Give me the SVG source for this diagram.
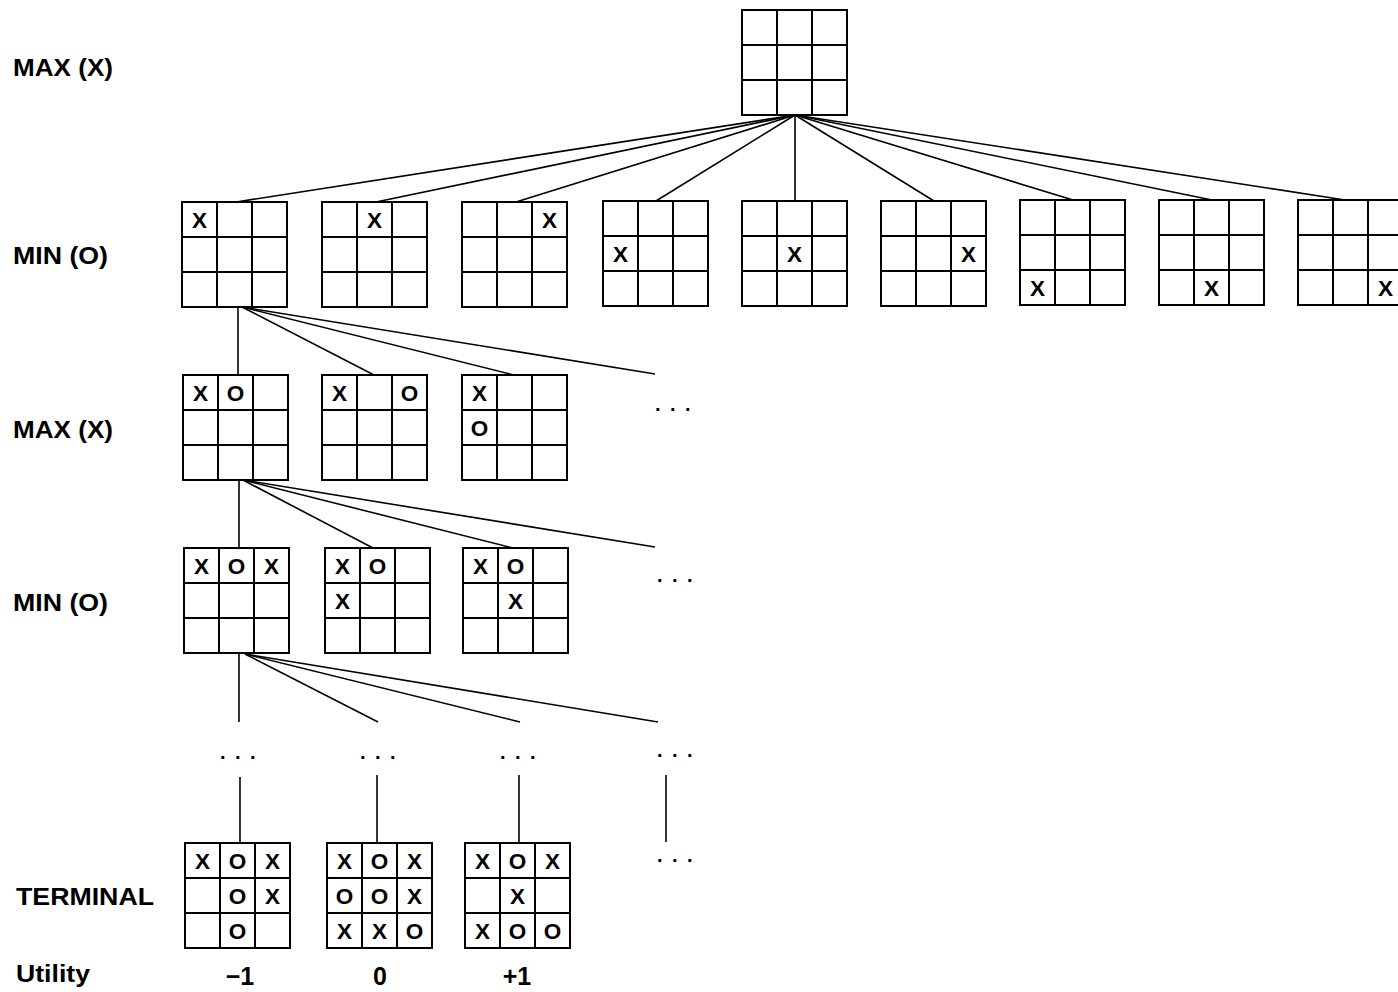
<svg xmlns="http://www.w3.org/2000/svg" xmlns:xlink="http://www.w3.org/1999/xlink" width="1398" height="992" viewBox="0 0 1398 992">
<style>
.lbl{font-family:"Liberation Sans",Arial,sans-serif;font-weight:bold;font-size:23px;fill:#000}
.m{font-family:"Liberation Sans",Arial,sans-serif;font-weight:bold;font-size:22.5px;fill:#000;text-anchor:middle}
.u{font-family:"Liberation Sans",Arial,sans-serif;font-weight:bold;font-size:25px;fill:#000;text-anchor:middle}
.dots{font-family:"Liberation Sans",Arial,sans-serif;font-weight:bold;font-size:20px;fill:#000;letter-spacing:9.4px}
.conn line{stroke:#000;stroke-width:1.6;fill:none}
</style>
<defs>
<g id="grid">
<rect x="0" y="0" width="105" height="105" fill="#fff" stroke="#000" stroke-width="2"/>
<path d="M35 0V105M70 0V105M0 35H105M0 70H105" stroke="#000" stroke-width="2" fill="none"/>
</g>
</defs>
<rect width="1398" height="992" fill="#fff"/>

<g id="labels">
<text class="lbl" x="13" y="76" textLength="100" lengthAdjust="spacingAndGlyphs">MAX (X)</text>
<text class="lbl" x="13" y="264" textLength="95" lengthAdjust="spacingAndGlyphs">MIN (O)</text>
<text class="lbl" x="13" y="438" textLength="100" lengthAdjust="spacingAndGlyphs">MAX (X)</text>
<text class="lbl" x="13" y="611" textLength="95" lengthAdjust="spacingAndGlyphs">MIN (O)</text>
<text class="lbl" x="16" y="905" textLength="138" lengthAdjust="spacingAndGlyphs">TERMINAL</text>
<text class="lbl" x="16" y="982" textLength="74" lengthAdjust="spacingAndGlyphs">Utility</text>
</g>

<g class="conn" id="connectors">
<line x1="795" y1="115" x2="236" y2="202"/>
<line x1="795" y1="115" x2="376" y2="202"/>
<line x1="795" y1="115" x2="516" y2="202"/>
<line x1="795" y1="115" x2="656" y2="201"/>
<line x1="795" y1="115" x2="795" y2="201"/>
<line x1="795" y1="115" x2="934" y2="201"/>
<line x1="795" y1="115" x2="1073" y2="200"/>
<line x1="795" y1="115" x2="1212" y2="200"/>
<line x1="795" y1="115" x2="1345" y2="200"/>
<line x1="238" y1="307" x2="238" y2="375"/>
<line x1="242" y1="307" x2="374" y2="375"/>
<line x1="242" y1="307" x2="514" y2="375"/>
<line x1="242" y1="307" x2="655" y2="374"/>
<line x1="239" y1="480" x2="239" y2="548"/>
<line x1="243" y1="480" x2="373" y2="548"/>
<line x1="243" y1="480" x2="513" y2="548"/>
<line x1="243" y1="480" x2="655" y2="547"/>
<line x1="239" y1="653" x2="239" y2="722"/>
<line x1="245" y1="654" x2="378" y2="722"/>
<line x1="245" y1="654" x2="520" y2="722"/>
<line x1="245" y1="654" x2="658" y2="722"/>
<line x1="240" y1="777" x2="240" y2="843"/>
<line x1="377" y1="775" x2="377" y2="843"/>
<line x1="519" y1="775" x2="519" y2="843"/>
<line x1="666" y1="775" x2="666" y2="842"/>
</g>

<g id="ellipses">
<text class="dots" x="655" y="410.5">...</text>
<text class="dots" x="657" y="581.5">...</text>
<text class="dots" x="220" y="758.5">...</text>
<text class="dots" x="360" y="758.5">...</text>
<text class="dots" x="500" y="758.5">...</text>
<text class="dots" x="657" y="756.5">...</text>
<text class="dots" x="657" y="861.5">...</text>
</g>

<g id="root"><use xlink:href="#grid" x="742" y="10"/></g>

<g id="l1-1"><use xlink:href="#grid" x="182" y="202"/><text class="m" x="199.5" y="228">X</text></g>
<g id="l1-2"><use xlink:href="#grid" x="322" y="202"/><text class="m" x="374.5" y="228">X</text></g>
<g id="l1-3"><use xlink:href="#grid" x="462" y="202"/><text class="m" x="549.5" y="228">X</text></g>
<g id="l1-4"><use xlink:href="#grid" x="603" y="201"/><text class="m" x="620.5" y="262">X</text></g>
<g id="l1-5"><use xlink:href="#grid" x="742" y="201"/><text class="m" x="794.5" y="262">X</text></g>
<g id="l1-6"><use xlink:href="#grid" x="881" y="201"/><text class="m" x="968.5" y="262">X</text></g>
<g id="l1-7"><use xlink:href="#grid" x="1020" y="200"/><text class="m" x="1037.5" y="296">X</text></g>
<g id="l1-8"><use xlink:href="#grid" x="1159" y="200"/><text class="m" x="1211.5" y="296">X</text></g>
<g id="l1-9"><use xlink:href="#grid" x="1298" y="200"/><text class="m" x="1385.5" y="296">X</text></g>

<g id="l2-1"><use xlink:href="#grid" x="183" y="375"/><text class="m" x="200.5" y="401">X</text><text class="m" x="235.5" y="401">O</text></g>
<g id="l2-2"><use xlink:href="#grid" x="322" y="375"/><text class="m" x="339.5" y="401">X</text><text class="m" x="409.5" y="401">O</text></g>
<g id="l2-3"><use xlink:href="#grid" x="462" y="375"/><text class="m" x="479.5" y="401">X</text><text class="m" x="479.5" y="436">O</text></g>

<g id="l3-1"><use xlink:href="#grid" x="184" y="548"/><text class="m" x="201.5" y="574">X</text><text class="m" x="236.5" y="574">O</text><text class="m" x="271.5" y="574">X</text></g>
<g id="l3-2"><use xlink:href="#grid" x="325" y="548"/><text class="m" x="342.5" y="574">X</text><text class="m" x="377.5" y="574">O</text><text class="m" x="342.5" y="609">X</text></g>
<g id="l3-3"><use xlink:href="#grid" x="463" y="548"/><text class="m" x="480.5" y="574">X</text><text class="m" x="515.5" y="574">O</text><text class="m" x="515.5" y="609">X</text></g>

<g id="term-1"><use xlink:href="#grid" x="185" y="843"/>
<text class="m" x="202.5" y="869">X</text><text class="m" x="237.5" y="869">O</text><text class="m" x="272.5" y="869">X</text>
<text class="m" x="237.5" y="904">O</text><text class="m" x="272.5" y="904">X</text>
<text class="m" x="237.5" y="939">O</text>
<text class="u" x="240" y="985">−1</text></g>
<g id="term-2"><use xlink:href="#grid" x="327" y="843"/>
<text class="m" x="344.5" y="869">X</text><text class="m" x="379.5" y="869">O</text><text class="m" x="414.5" y="869">X</text>
<text class="m" x="344.5" y="904">O</text><text class="m" x="379.5" y="904">O</text><text class="m" x="414.5" y="904">X</text>
<text class="m" x="344.5" y="939">X</text><text class="m" x="379.5" y="939">X</text><text class="m" x="414.5" y="939">O</text>
<text class="u" x="380" y="985">0</text></g>
<g id="term-3"><use xlink:href="#grid" x="465" y="843"/>
<text class="m" x="482.5" y="869">X</text><text class="m" x="517.5" y="869">O</text><text class="m" x="552.5" y="869">X</text>
<text class="m" x="517.5" y="904">X</text>
<text class="m" x="482.5" y="939">X</text><text class="m" x="517.5" y="939">O</text><text class="m" x="552.5" y="939">O</text>
<text class="u" x="517" y="985">+1</text></g>
</svg>
